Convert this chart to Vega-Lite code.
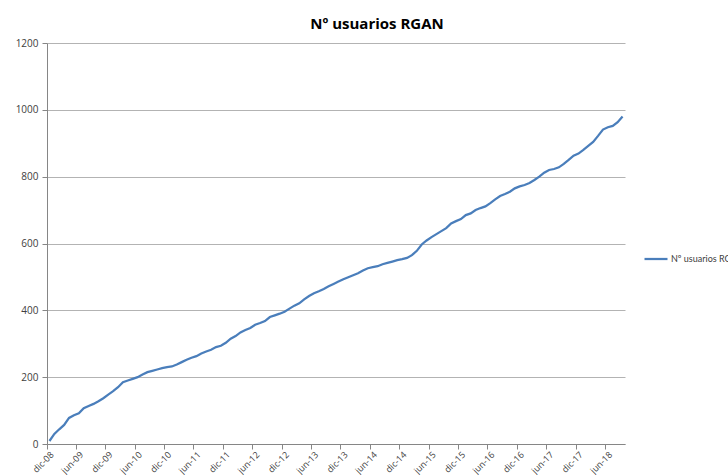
{
  "$schema": "https://vega.github.io/schema/vega-lite/v6.json",
  "width": 578,
  "height": 401,
  "autosize": {"type": "none"},
  "padding": {"left": 47, "top": 43, "right": 103, "bottom": 31},
  "background": "white",
  "title": {"text": "Nº usuarios RGAN", "font": "Open Sans", "fontSize": 15, "fontWeight": "bold", "color": "#000000", "anchor": "middle", "dx": 41, "dy": 22, "offset": 16, "baseline": "alphabetic"},
  "data": {"values": [
    {"mes": "dic-08", "usuarios": 9},
    {"mes": "ene-09", "usuarios": 30},
    {"mes": "feb-09", "usuarios": 44},
    {"mes": "mar-09", "usuarios": 57},
    {"mes": "abr-09", "usuarios": 78},
    {"mes": "may-09", "usuarios": 86},
    {"mes": "jun-09", "usuarios": 92},
    {"mes": "jul-09", "usuarios": 107},
    {"mes": "ago-09", "usuarios": 114},
    {"mes": "sep-09", "usuarios": 120},
    {"mes": "oct-09", "usuarios": 128},
    {"mes": "nov-09", "usuarios": 137},
    {"mes": "dic-09", "usuarios": 148},
    {"mes": "ene-10", "usuarios": 158},
    {"mes": "feb-10", "usuarios": 170},
    {"mes": "mar-10", "usuarios": 185},
    {"mes": "abr-10", "usuarios": 190},
    {"mes": "may-10", "usuarios": 195},
    {"mes": "jun-10", "usuarios": 200},
    {"mes": "jul-10", "usuarios": 208},
    {"mes": "ago-10", "usuarios": 215},
    {"mes": "sep-10", "usuarios": 219},
    {"mes": "oct-10", "usuarios": 223},
    {"mes": "nov-10", "usuarios": 227},
    {"mes": "dic-10", "usuarios": 230},
    {"mes": "ene-11", "usuarios": 232},
    {"mes": "feb-11", "usuarios": 238},
    {"mes": "mar-11", "usuarios": 245},
    {"mes": "abr-11", "usuarios": 252},
    {"mes": "may-11", "usuarios": 258},
    {"mes": "jun-11", "usuarios": 263},
    {"mes": "jul-11", "usuarios": 271},
    {"mes": "ago-11", "usuarios": 277},
    {"mes": "sep-11", "usuarios": 282},
    {"mes": "oct-11", "usuarios": 290},
    {"mes": "nov-11", "usuarios": 294},
    {"mes": "dic-11", "usuarios": 303},
    {"mes": "ene-12", "usuarios": 315},
    {"mes": "feb-12", "usuarios": 323},
    {"mes": "mar-12", "usuarios": 334},
    {"mes": "abr-12", "usuarios": 341},
    {"mes": "may-12", "usuarios": 347},
    {"mes": "jun-12", "usuarios": 357},
    {"mes": "jul-12", "usuarios": 362},
    {"mes": "ago-12", "usuarios": 368},
    {"mes": "sep-12", "usuarios": 380},
    {"mes": "oct-12", "usuarios": 385},
    {"mes": "nov-12", "usuarios": 390},
    {"mes": "dic-12", "usuarios": 396},
    {"mes": "ene-13", "usuarios": 405},
    {"mes": "feb-13", "usuarios": 414},
    {"mes": "mar-13", "usuarios": 421},
    {"mes": "abr-13", "usuarios": 433},
    {"mes": "may-13", "usuarios": 443},
    {"mes": "jun-13", "usuarios": 451},
    {"mes": "jul-13", "usuarios": 457},
    {"mes": "ago-13", "usuarios": 464},
    {"mes": "sep-13", "usuarios": 472},
    {"mes": "oct-13", "usuarios": 479},
    {"mes": "nov-13", "usuarios": 486},
    {"mes": "dic-13", "usuarios": 493},
    {"mes": "ene-14", "usuarios": 499},
    {"mes": "feb-14", "usuarios": 505},
    {"mes": "mar-14", "usuarios": 511},
    {"mes": "abr-14", "usuarios": 519},
    {"mes": "may-14", "usuarios": 526},
    {"mes": "jun-14", "usuarios": 529},
    {"mes": "jul-14", "usuarios": 532},
    {"mes": "ago-14", "usuarios": 538},
    {"mes": "sep-14", "usuarios": 542},
    {"mes": "oct-14", "usuarios": 546},
    {"mes": "nov-14", "usuarios": 550},
    {"mes": "dic-14", "usuarios": 553},
    {"mes": "ene-15", "usuarios": 557},
    {"mes": "feb-15", "usuarios": 565},
    {"mes": "mar-15", "usuarios": 578},
    {"mes": "abr-15", "usuarios": 597},
    {"mes": "may-15", "usuarios": 609},
    {"mes": "jun-15", "usuarios": 619},
    {"mes": "jul-15", "usuarios": 628},
    {"mes": "ago-15", "usuarios": 637},
    {"mes": "sep-15", "usuarios": 646},
    {"mes": "oct-15", "usuarios": 660},
    {"mes": "nov-15", "usuarios": 667},
    {"mes": "dic-15", "usuarios": 673},
    {"mes": "ene-16", "usuarios": 685},
    {"mes": "feb-16", "usuarios": 690},
    {"mes": "mar-16", "usuarios": 700},
    {"mes": "abr-16", "usuarios": 706},
    {"mes": "may-16", "usuarios": 711},
    {"mes": "jun-16", "usuarios": 721},
    {"mes": "jul-16", "usuarios": 732},
    {"mes": "ago-16", "usuarios": 742},
    {"mes": "sep-16", "usuarios": 748},
    {"mes": "oct-16", "usuarios": 755},
    {"mes": "nov-16", "usuarios": 765},
    {"mes": "dic-16", "usuarios": 771},
    {"mes": "ene-17", "usuarios": 775},
    {"mes": "feb-17", "usuarios": 781},
    {"mes": "mar-17", "usuarios": 790},
    {"mes": "abr-17", "usuarios": 800},
    {"mes": "may-17", "usuarios": 812},
    {"mes": "jun-17", "usuarios": 820},
    {"mes": "jul-17", "usuarios": 823},
    {"mes": "ago-17", "usuarios": 828},
    {"mes": "sep-17", "usuarios": 838},
    {"mes": "oct-17", "usuarios": 850},
    {"mes": "nov-17", "usuarios": 863},
    {"mes": "dic-17", "usuarios": 869},
    {"mes": "ene-18", "usuarios": 880},
    {"mes": "feb-18", "usuarios": 892},
    {"mes": "mar-18", "usuarios": 904},
    {"mes": "abr-18", "usuarios": 922},
    {"mes": "may-18", "usuarios": 941},
    {"mes": "jun-18", "usuarios": 948},
    {"mes": "jul-18", "usuarios": 952},
    {"mes": "ago-18", "usuarios": 963},
    {"mes": "sep-18", "usuarios": 980}
  ]},
  "mark": {"type": "line", "strokeWidth": 2.25, "interpolate": "linear"},
  "encoding": {
    "x": {
      "field": "mes", "type": "ordinal", "sort": null, "bandPosition": 0.5,
      "scale": {"type": "band", "paddingInner": 0, "paddingOuter": 0},
      "axis": {
        "title": null,
        "values": ["dic-08", "jun-09", "dic-09", "jun-10", "dic-10", "jun-11", "dic-11", "jun-12", "dic-12", "jun-13", "dic-13", "jun-14", "dic-14", "jun-15", "dic-15", "jun-16", "dic-16", "jun-17", "dic-17", "jun-18"],
        "bandPosition": 0,
        "labelAngle": -45,
        "labelAlign": "right",
        "labelBaseline": "top",
        "labelFont": "Open Sans", "labelFontSize": 9, "labelColor": "#404040",
        "labelPadding": 1,
        "tickSize": 5, "tickColor": "#868686", "domainColor": "#868686",
        "grid": false
      }
    },
    "y": {
      "field": "usuarios", "type": "quantitative",
      "scale": {"domain": [0, 1200], "nice": false},
      "axis": {
        "title": null,
        "format": "d",
        "values": [0, 200, 400, 600, 800, 1000, 1200],
        "labelFont": "Open Sans", "labelFontSize": 10, "labelColor": "#404040",
        "labelPadding": 4,
        "tickSize": 5, "tickColor": "#868686", "domainColor": "#868686",
        "grid": true, "gridColor": "#b3b3b3", "gridWidth": 1
      }
    },
    "color": {
      "datum": "Nº usuarios RGAN",
      "scale": {"range": ["#4a7ebb"]},
      "legend": {
        "title": null, "orient": "none", "legendX": 596, "legendY": 203,
        "symbolType": "stroke", "symbolSize": 529, "symbolStrokeWidth": 2.25,
        "labelFont": "Lato", "labelFontSize": 9, "labelColor": "#404040", "labelOffset": 2
      }
    }
  },
  "config": {"view": {"stroke": null}}
}
